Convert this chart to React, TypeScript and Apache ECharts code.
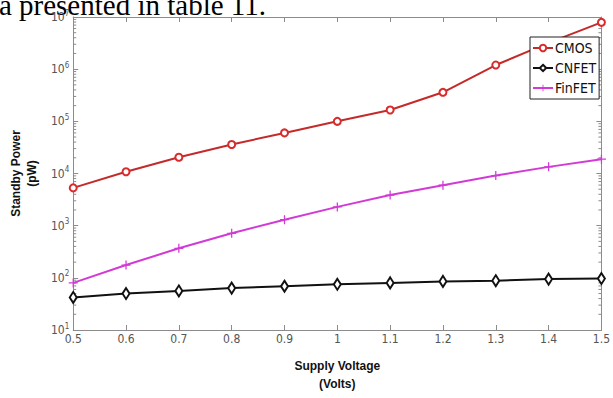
import React, { useEffect, useRef } from "react";
import * as echarts from "echarts";

const voltages = [0.5, 0.6, 0.7, 0.8, 0.9, 1.0, 1.1, 1.2, 1.3, 1.4, 1.5];
const cmos = [5300, 10800, 20500, 36000, 60000, 100000, 165000, 360000, 1200000, 3200000, 7900000];
const cnfet = [42, 50, 56, 63.5, 69, 75, 80, 85.5, 88, 94.5, 97];
const finfet = [80, 176, 368, 714, 1300, 2290, 3860, 5980, 9140, 13400, 18800];
const seriesNames = ["CMOS", "CNFET", "FinFET"];
const headerText = "a presented in table 11.";
const xName = "Supply Voltage\n(Volts)";
const yName = "Standby Power\n(pW)";

const FONT = "'DejaVu Sans Condensed', 'Liberation Sans', Arial, sans-serif";
const AXIS_COLOR = "#8c8c8c";
const PLUS = "path://M4.3,0 L5.7,0 L5.7,4.3 L10,4.3 L10,5.7 L5.7,5.7 L5.7,10 L4.3,10 L4.3,5.7 L0,5.7 L0,4.3 L4.3,4.3 Z";

const minorTicks: number[] = [];
for (let e = 1; e < 7; e++) {
  for (let m = 2; m <= 9; m++) minorTicks.push(m * Math.pow(10, e));
}

const pairs = (vals: number[]) => voltages.map((v, i) => [v, vals[i]]);

export default function App() {
  const ref = useRef<HTMLDivElement>(null);
  useEffect(() => {
    if (!ref.current) return;
    const chart = echarts.init(ref.current, null, { renderer: "svg" });
    const yLabelFmt = (v: number) => {
      const e = Math.round(Math.log10(v));
      return `{b|10}{s|${e}}`;
    };
    chart.setOption({
      animation: false,
      backgroundColor: "#fff",
      textStyle: { fontFamily: FONT },
      grid: { left: 57, right: 8, top: 17, bottom: 57 },
      legend: {
        data: seriesNames,
        orient: "vertical",
        left: 530,
        top: 37,
        z: 10,
        itemWidth: 20,
        itemHeight: 8,
        itemGap: 6,
        padding: [4, 3, 4, 2],
        borderColor: "#222",
        borderWidth: 1,
        backgroundColor: "#fff",
        textStyle: { fontSize: 14, color: "#111", fontFamily: FONT, padding: [0, 0, 0, -3] },
      },
      xAxis: [
        {
          type: "value",
          min: 0.5,
          max: 1.5,
          interval: 0.1,
          name: xName,
          nameLocation: "middle",
          nameGap: 27,
          nameTextStyle: { fontSize: 12, fontWeight: "bold", color: "#111", lineHeight: 18, fontFamily: "'Liberation Sans', Arial, sans-serif" },
          axisLine: { lineStyle: { color: AXIS_COLOR } },
          axisTick: { inside: true, length: 5, lineStyle: { color: AXIS_COLOR } },
          axisLabel: {
            color: "#555",
            fontSize: 12,
            margin: 3,
            formatter: (v: number) => String(+v.toFixed(1)),
          },
          splitLine: { show: false },
        },
        {
          type: "value",
          position: "top",
          min: 0.5,
          max: 1.5,
          interval: 0.1,
          axisLine: { show: true, lineStyle: { color: AXIS_COLOR } },
          axisTick: { inside: true, length: 5, lineStyle: { color: AXIS_COLOR } },
          axisLabel: { show: false },
          splitLine: { show: false },
        },
      ],
      yAxis: [
        {
          type: "log",
          logBase: 10,
          min: 10,
          max: 1e7,
          name: yName,
          nameLocation: "middle",
          nameGap: 24,
          nameTextStyle: { fontSize: 12, fontWeight: "bold", color: "#111", lineHeight: 16, fontFamily: "'Liberation Sans', Arial, sans-serif" },
          axisLine: { show: true, lineStyle: { color: AXIS_COLOR } },
          axisTick: { inside: true, length: 5, lineStyle: { color: AXIS_COLOR } },
          axisLabel: {
            formatter: yLabelFmt,
            margin: 4,
            rich: {
              b: { fontSize: 12, color: "#555", fontFamily: FONT },
              s: { fontSize: 8, color: "#555", fontFamily: FONT, verticalAlign: "top", padding: [0, 0, 8, 0] },
            },
          },
          splitLine: { show: false },
        },
        {
          type: "log",
          logBase: 10,
          min: 10,
          max: 1e7,
          position: "right",
          axisLine: { show: true, lineStyle: { color: AXIS_COLOR } },
          axisTick: { inside: true, length: 5, lineStyle: { color: AXIS_COLOR } },
          axisLabel: { show: false },
          splitLine: { show: false },
        },
      ],
      graphic: [
        {
          type: "text",
          x: 266,
          y: 19,
          silent: true,
          style: {
            text: headerText,
            font: "29px 'Liberation Serif', 'Times New Roman', serif",
            fill: "#000",
            textAlign: "right",
            verticalAlign: "bottom",
          },
        },
      ],
      series: [
        {
          type: "custom",
          name: "minorTicks",
          silent: true,
          z: 1,
          clip: false,
          data: minorTicks.map((v) => [0.5, v]),
          renderItem: (params: any, api: any) => {
            const v = api.value(1);
            const l = api.coord([0.5, v]);
            const r = api.coord([1.5, v]);
            const st = { stroke: AXIS_COLOR, lineWidth: 1 };
            return {
              type: "group",
              children: [
                { type: "line", shape: { x1: l[0], y1: l[1], x2: l[0] + 3, y2: l[1] }, style: st },
                { type: "line", shape: { x1: r[0] - 3, y1: r[1], x2: r[0], y2: r[1] }, style: st },
              ],
            };
          },
        },
        {
          name: "CMOS",
          type: "line",
          data: pairs(cmos),
          symbol: "emptyCircle",
          symbolSize: 7,
          lineStyle: { color: "#c42a2a", width: 2 },
          itemStyle: { color: "#d92b2b", borderWidth: 2 },
          z: 2,
        },
        {
          name: "CNFET",
          type: "line",
          data: pairs(cnfet),
          symbol: "emptyDiamond",
          symbolSize: [7, 11],
          lineStyle: { color: "#111", width: 2 },
          itemStyle: { color: "#111", borderWidth: 2 },
          z: 2,
        },
        {
          name: "FinFET",
          type: "line",
          data: pairs(finfet),
          symbol: PLUS,
          symbolSize: 9,
          lineStyle: { color: "#d23ad6", width: 2 },
          itemStyle: { color: "#d23ad6" },
          z: 2,
        },
      ],
    });
    return () => chart.dispose();
  }, []);
  return (
    <div
      ref={ref}
      style={{ position: "absolute", left: 0, top: 0, width: 613, height: 398, background: "#fff" }}
    />
  );
}
